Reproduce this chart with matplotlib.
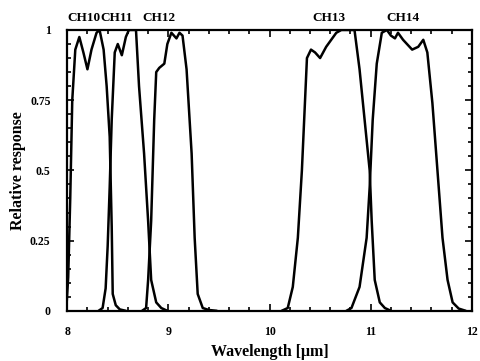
import matplotlib
matplotlib.use("Agg")
import matplotlib.pyplot as plt
from matplotlib.ticker import MultipleLocator

# spectral response curves
ch10_wl = [7.99, 8.01, 8.03, 8.05, 8.08, 8.12, 8.16, 8.20, 8.24, 8.29, 8.32, 8.36, 8.39, 8.42, 8.44, 8.45, 8.48, 8.52, 8.58]
ch10_r = [0.0, 0.12, 0.4, 0.75, 0.93, 0.975, 0.92, 0.86, 0.93, 0.99, 1.0, 0.93, 0.80, 0.62, 0.3, 0.06, 0.02, 0.005, 0.0]

ch11_wl = [8.31, 8.35, 8.38, 8.40, 8.42, 8.44, 8.47, 8.50, 8.54, 8.58, 8.61, 8.68, 8.71, 8.76, 8.80, 8.83, 8.88, 8.93, 8.99]
ch11_r = [0.0, 0.01, 0.08, 0.23, 0.44, 0.68, 0.92, 0.95, 0.91, 0.975, 1.0, 1.0, 0.80, 0.56, 0.32, 0.11, 0.03, 0.01, 0.0]

ch12_wl = [8.74, 8.78, 8.80, 8.83, 8.86, 8.88, 8.91, 8.96, 8.99, 9.03, 9.08, 9.11, 9.14, 9.18, 9.23, 9.26, 9.29, 9.34, 9.40, 9.48]
ch12_r = [0.0, 0.01, 0.11, 0.32, 0.68, 0.85, 0.865, 0.88, 0.95, 0.99, 0.97, 0.99, 0.98, 0.86, 0.56, 0.26, 0.06, 0.01, 0.003, 0.0]

ch13_wl = [10.12, 10.18, 10.23, 10.28, 10.32, 10.35, 10.37, 10.41, 10.45, 10.50, 10.56, 10.62, 10.66, 10.71, 10.84,
           10.89, 10.94, 10.99, 11.01, 11.04, 11.09, 11.14, 11.20]
ch13_r = [0.0, 0.01, 0.085, 0.26, 0.5, 0.74, 0.9, 0.93, 0.92, 0.9, 0.94, 0.97, 0.99, 1.0, 1.0,
          0.86, 0.68, 0.5, 0.32, 0.11, 0.03, 0.01, 0.0]

ch14_wl = [10.76, 10.81, 10.89, 10.96, 10.99, 11.02, 11.06, 11.11, 11.16, 11.20, 11.24, 11.27, 11.32, 11.41,
           11.47, 11.52, 11.56, 11.61, 11.66, 11.71, 11.76, 11.81, 11.87, 11.94]
ch14_r = [0.0, 0.01, 0.085, 0.26, 0.44, 0.68, 0.88, 0.99, 1.0, 0.98, 0.97, 0.99, 0.965, 0.93,
          0.94, 0.965, 0.92, 0.74, 0.5, 0.26, 0.11, 0.03, 0.008, 0.0]

channel_names = ["CH10", "CH11", "CH12", "CH13", "CH14"]
label_wl = [8.17, 8.49, 8.91, 10.59, 11.32]

plt.rcParams["font.family"] = ["Liberation Serif", "DejaVu Serif"]
plt.rcParams["font.weight"] = "bold"

fig = plt.figure(figsize=(4.8, 3.61), dpi=100)
ax = fig.add_axes([0.14, 0.139, 0.843, 0.778])

for wl, r in [(ch10_wl, ch10_r), (ch11_wl, ch11_r), (ch12_wl, ch12_r), (ch13_wl, ch13_r), (ch14_wl, ch14_r)]:
    ax.plot(wl, r, color="black", linewidth=1.8, solid_joinstyle="round", solid_capstyle="round")

for name, x in zip(channel_names, label_wl):
    ax.text(x, 1.02, name, ha="center", va="bottom", fontsize=9.5, fontweight="bold")

ax.set_xlim(8, 12)
ax.set_ylim(0, 1)
ax.xaxis.set_major_locator(MultipleLocator(1))
ax.xaxis.set_minor_locator(MultipleLocator(0.2))
ax.yaxis.set_major_locator(MultipleLocator(0.25))
ax.yaxis.set_minor_locator(MultipleLocator(0.05))
ax.set_yticks([0, 0.25, 0.5, 0.75, 1])
ax.set_yticklabels(["0", "0.25", "0.5", "0.75", "1"])
ax.tick_params(which="both", direction="in", top=True, right=True, width=1.2, labelsize=8.5)
ax.tick_params(which="major", length=5)
ax.tick_params(which="minor", length=3)
ax.tick_params(axis="x", which="major", pad=11)
ax.tick_params(axis="y", which="major", pad=12)
for s in ax.spines.values():
    s.set_linewidth(1.6)

ax.set_xlabel("Wavelength [\u03bcm]", fontsize=11.5, fontweight="bold", labelpad=4)
ax.set_ylabel("Relative response", fontsize=11.5, fontweight="bold", labelpad=3)

fig.savefig("out.png", dpi=100)
